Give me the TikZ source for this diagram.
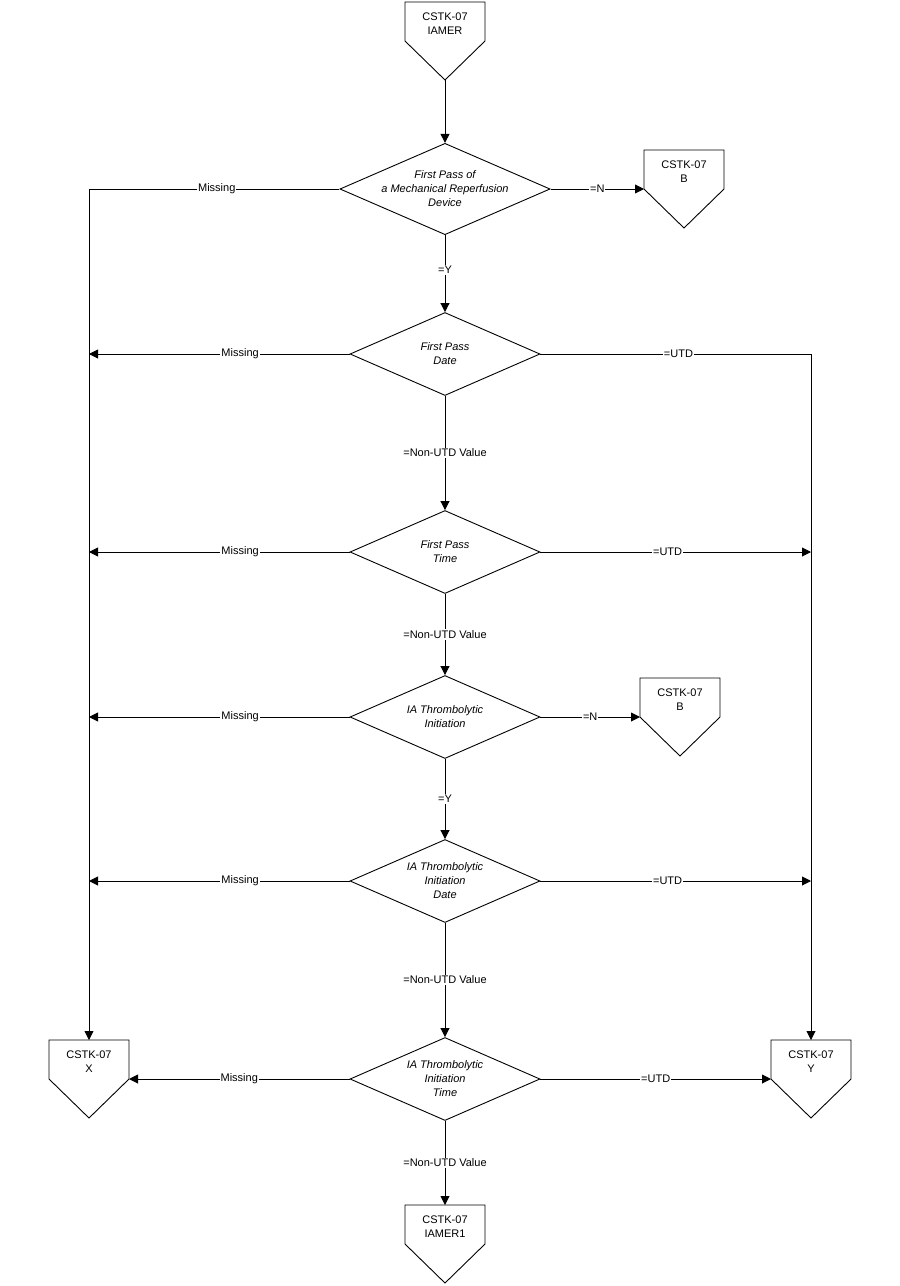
\documentclass[tikz,border=0pt]{standalone}
\usepackage{fontspec}
\setmainfont{Liberation Sans}
\usetikzlibrary{shapes.geometric,arrows.meta}

\tikzset{
  every path/.style={line width=0.9pt},
  dec/.style={diamond, draw, aspect=2.3, inner sep=0pt, minimum width=190pt, minimum height=83pt,
    align=center, font=\fontsize{11}{14}\selectfont\itshape},
  lbl/.style={fill=white, inner sep=1pt, font=\fontsize{11}{14}\selectfont},
  arr/.style={-{Triangle[length=9pt,width=9pt]}},
  conn/.style={align=center, font=\fontsize{11}{14}\selectfont, inner sep=0pt}
}
% off-page connector: #1 name, #2 x, #3 y (top), #4 text
\newcommand{\offpage}[4]{%
  \draw (#2-40,#3) -- (#2+40,#3) -- (#2+40,#3+39) -- (#2,#3+78) -- (#2-40,#3+39) -- cycle;
  \node[conn] (#1) at (#2,#3+22) {#4};
  \coordinate (#1-n) at (#2,#3);
  \coordinate (#1-s) at (#2,#3+78);
  \coordinate (#1-w) at (#2-40,#3+39);
  \coordinate (#1-e) at (#2+40,#3+39);
}

\begin{document}
\begin{tikzpicture}[x=1pt, y=-1pt]
\useasboundingbox (0,0) rectangle (900,1286);

\offpage{top}{445}{2}{CSTK-07\\IAMER}
\offpage{bone}{684}{150}{CSTK-07\\B}
\offpage{btwo}{680}{678}{CSTK-07\\B}
\offpage{xx}{89}{1040}{CSTK-07\\X}
\offpage{yy}{811}{1040}{CSTK-07\\Y}
\offpage{bot}{445}{1205}{CSTK-07\\IAMER1}

\node[dec] (pass) at (445,189) {First Pass of\\a Mechanical Reperfusion\\Device};
\node[dec] (pdate) at (445,354) {First Pass\\Date};
\node[dec] (ptime) at (445,552) {First Pass\\Time};
\node[dec] (ia) at (445,717) {IA Thrombolytic\\Initiation};
\node[dec] (iadate) at (445,881) {IA Thrombolytic\\Initiation\\Date};
\node[dec] (iatime) at (445,1079) {IA Thrombolytic\\Initiation\\Time};

\coordinate (lx) at (89,189);
\coordinate (ry) at (811,354);

% main column
\draw[arr] (top-s) -- (pass.north);
\draw[arr] (pass.south) -- node[lbl, pos=0.45] {=Y} (pdate.north);
\draw[arr] (pdate.south) -- node[lbl, pos=0.5] {=Non-UTD Value} (ptime.north);
\draw[arr] (ptime.south) -- node[lbl, pos=0.5] {=Non-UTD Value} (ia.north);
\draw[arr] (ia.south) -- node[lbl, pos=0.5] {=Y} (iadate.north);
\draw[arr] (iadate.south) -- node[lbl, pos=0.5] {=Non-UTD Value} (iatime.north);
\draw[arr] (iatime.south) -- node[lbl, pos=0.5] {=Non-UTD Value} (bot-n);

% left side
\draw[arr] (pass.west) -- node[lbl, pos=0.49] {Missing} (lx) -- (xx-n);
\draw[arr] (pdate.west) -- node[lbl, pos=0.42] {Missing} (89,354);
\draw[arr] (ptime.west) -- node[lbl, pos=0.42] {Missing} (89,552);
\draw[arr] (ia.west) -- node[lbl, pos=0.42] {Missing} (89,717);
\draw[arr] (iadate.west) -- node[lbl, pos=0.42] {Missing} (89,881);
\draw[arr] (iatime.west) -- node[lbl, pos=0.5] {Missing} (xx-e);

% right side
\draw[arr] (pass.east) -- node[lbl, pos=0.5] {=N} (bone-w);
\draw[arr] (pdate.east) -- node[lbl, pos=0.51] {=UTD} (ry) -- (yy-n);
\draw[arr] (ptime.east) -- node[lbl, pos=0.47] {=UTD} (811,552);
\draw[arr] (ia.east) -- node[lbl, pos=0.5] {=N} (btwo-w);
\draw[arr] (iadate.east) -- node[lbl, pos=0.47] {=UTD} (811,881);
\draw[arr] (iatime.east) -- node[lbl, pos=0.5] {=UTD} (yy-w);
\end{tikzpicture}
\end{document}
